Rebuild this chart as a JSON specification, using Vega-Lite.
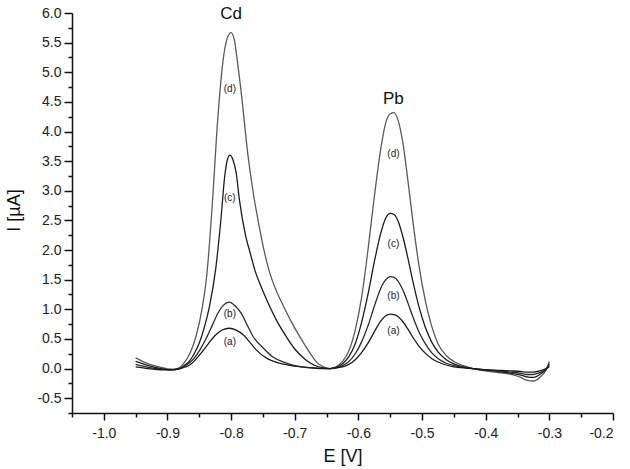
{
  "$schema": "https://vega.github.io/schema/vega-lite/v6.json",
  "width": 541,
  "height": 400,
  "autosize": {"type": "none"},
  "padding": {"left": 72, "top": 13, "right": 17, "bottom": 56},
  "background": "white",
  "config": {
    "locale": {"number": {"decimal": ".", "thousands": ",", "grouping": [3], "currency": ["", ""], "minus": "-"}},
    "view": {"stroke": null},
    "font": "Liberation Sans",
    "axis": {
      "grid": false,
      "domainColor": "#111",
      "domainWidth": 1.5,
      "tickColor": "#111",
      "tickWidth": 1.5,
      "labelColor": "#222",
      "labelFont": "Liberation Sans",
      "labelFontSize": 14,
      "titleFont": "Liberation Sans",
      "titleFontSize": 18,
      "titleFontWeight": "normal",
      "titleColor": "#111"
    }
  },
  "resolve": {"axis": {"x": "independent", "y": "independent"}},
  "layer": [
    {
      "data": {"values": [
        {"E": -0.950, "I": 0.18, "s": "d"}, {"E": -0.930, "I": 0.08, "s": "d"}, {"E": -0.910, "I": 0.02, "s": "d"}, {"E": -0.895, "I": -0.01, "s": "d"}, {"E": -0.885, "I": 0.0, "s": "d"}, {"E": -0.875, "I": 0.08, "s": "d"}, {"E": -0.865, "I": 0.25, "s": "d"}, {"E": -0.855, "I": 0.55, "s": "d"}, {"E": -0.845, "I": 1.05, "s": "d"}, {"E": -0.838, "I": 1.6, "s": "d"}, {"E": -0.830, "I": 2.7, "s": "d"}, {"E": -0.821, "I": 4.21, "s": "d"}, {"E": -0.813, "I": 5.17, "s": "d"}, {"E": -0.806, "I": 5.58, "s": "d"}, {"E": -0.800, "I": 5.67, "s": "d"}, {"E": -0.795, "I": 5.55, "s": "d"}, {"E": -0.790, "I": 5.17, "s": "d"}, {"E": -0.783, "I": 4.55, "s": "d"}, {"E": -0.774, "I": 3.64, "s": "d"}, {"E": -0.765, "I": 2.95, "s": "d"}, {"E": -0.758, "I": 2.52, "s": "d"}, {"E": -0.748, "I": 1.98, "s": "d"}, {"E": -0.740, "I": 1.64, "s": "d"}, {"E": -0.730, "I": 1.34, "s": "d"}, {"E": -0.718, "I": 1.06, "s": "d"}, {"E": -0.706, "I": 0.8, "s": "d"}, {"E": -0.690, "I": 0.5, "s": "d"}, {"E": -0.676, "I": 0.26, "s": "d"}, {"E": -0.665, "I": 0.1, "s": "d"}, {"E": -0.655, "I": 0.03, "s": "d"}, {"E": -0.645, "I": 0.0, "s": "d"},
        {"E": -0.635, "I": 0.03, "s": "d"}, {"E": -0.625, "I": 0.12, "s": "d"}, {"E": -0.615, "I": 0.3, "s": "d"}, {"E": -0.605, "I": 0.65, "s": "d"}, {"E": -0.595, "I": 1.2, "s": "d"}, {"E": -0.585, "I": 2.0, "s": "d"}, {"E": -0.575, "I": 2.9, "s": "d"}, {"E": -0.565, "I": 3.7, "s": "d"}, {"E": -0.557, "I": 4.15, "s": "d"}, {"E": -0.550, "I": 4.3, "s": "d"}, {"E": -0.544, "I": 4.32, "s": "d"}, {"E": -0.538, "I": 4.2, "s": "d"}, {"E": -0.530, "I": 3.8, "s": "d"}, {"E": -0.522, "I": 3.15, "s": "d"}, {"E": -0.514, "I": 2.45, "s": "d"}, {"E": -0.505, "I": 1.75, "s": "d"}, {"E": -0.495, "I": 1.15, "s": "d"}, {"E": -0.485, "I": 0.72, "s": "d"}, {"E": -0.475, "I": 0.42, "s": "d"}, {"E": -0.462, "I": 0.22, "s": "d"}, {"E": -0.450, "I": 0.12, "s": "d"}, {"E": -0.435, "I": 0.05, "s": "d"}, {"E": -0.420, "I": 0.0, "s": "d"}, {"E": -0.400, "I": -0.04, "s": "d"}, {"E": -0.380, "I": -0.07, "s": "d"}, {"E": -0.360, "I": -0.1, "s": "d"}, {"E": -0.345, "I": -0.15, "s": "d"}, {"E": -0.335, "I": -0.2, "s": "d"}, {"E": -0.325, "I": -0.21, "s": "d"}, {"E": -0.315, "I": -0.15, "s": "d"}, {"E": -0.305, "I": -0.02, "s": "d"}, {"E": -0.300, "I": 0.12, "s": "d"},

        {"E": -0.950, "I": 0.12, "s": "c"}, {"E": -0.930, "I": 0.05, "s": "c"}, {"E": -0.910, "I": 0.0, "s": "c"}, {"E": -0.895, "I": -0.02, "s": "c"}, {"E": -0.885, "I": -0.01, "s": "c"}, {"E": -0.875, "I": 0.04, "s": "c"}, {"E": -0.866, "I": 0.12, "s": "c"}, {"E": -0.858, "I": 0.25, "s": "c"}, {"E": -0.850, "I": 0.43, "s": "c"}, {"E": -0.842, "I": 0.7, "s": "c"}, {"E": -0.834, "I": 1.05, "s": "c"}, {"E": -0.824, "I": 1.7, "s": "c"}, {"E": -0.816, "I": 2.52, "s": "c"}, {"E": -0.810, "I": 3.25, "s": "c"}, {"E": -0.806, "I": 3.52, "s": "c"}, {"E": -0.802, "I": 3.6, "s": "c"}, {"E": -0.797, "I": 3.52, "s": "c"}, {"E": -0.792, "I": 3.3, "s": "c"}, {"E": -0.787, "I": 2.85, "s": "c"}, {"E": -0.777, "I": 2.23, "s": "c"}, {"E": -0.770, "I": 1.95, "s": "c"}, {"E": -0.763, "I": 1.67, "s": "c"}, {"E": -0.752, "I": 1.36, "s": "c"}, {"E": -0.742, "I": 1.11, "s": "c"}, {"E": -0.728, "I": 0.8, "s": "c"}, {"E": -0.714, "I": 0.55, "s": "c"}, {"E": -0.700, "I": 0.33, "s": "c"}, {"E": -0.683, "I": 0.15, "s": "c"}, {"E": -0.670, "I": 0.06, "s": "c"}, {"E": -0.655, "I": 0.01, "s": "c"}, {"E": -0.645, "I": 0.0, "s": "c"},
        {"E": -0.635, "I": 0.02, "s": "c"}, {"E": -0.625, "I": 0.08, "s": "c"}, {"E": -0.615, "I": 0.2, "s": "c"}, {"E": -0.605, "I": 0.42, "s": "c"}, {"E": -0.595, "I": 0.78, "s": "c"}, {"E": -0.585, "I": 1.25, "s": "c"}, {"E": -0.575, "I": 1.8, "s": "c"}, {"E": -0.565, "I": 2.28, "s": "c"}, {"E": -0.557, "I": 2.54, "s": "c"}, {"E": -0.550, "I": 2.62, "s": "c"}, {"E": -0.544, "I": 2.6, "s": "c"}, {"E": -0.538, "I": 2.5, "s": "c"}, {"E": -0.530, "I": 2.22, "s": "c"}, {"E": -0.522, "I": 1.85, "s": "c"}, {"E": -0.514, "I": 1.45, "s": "c"}, {"E": -0.505, "I": 1.05, "s": "c"}, {"E": -0.495, "I": 0.7, "s": "c"}, {"E": -0.485, "I": 0.45, "s": "c"}, {"E": -0.475, "I": 0.28, "s": "c"}, {"E": -0.462, "I": 0.15, "s": "c"}, {"E": -0.450, "I": 0.08, "s": "c"}, {"E": -0.435, "I": 0.03, "s": "c"}, {"E": -0.420, "I": 0.0, "s": "c"}, {"E": -0.400, "I": -0.03, "s": "c"}, {"E": -0.380, "I": -0.05, "s": "c"}, {"E": -0.360, "I": -0.08, "s": "c"}, {"E": -0.345, "I": -0.11, "s": "c"}, {"E": -0.335, "I": -0.14, "s": "c"}, {"E": -0.325, "I": -0.15, "s": "c"}, {"E": -0.315, "I": -0.1, "s": "c"}, {"E": -0.305, "I": -0.01, "s": "c"}, {"E": -0.300, "I": 0.08, "s": "c"},

        {"E": -0.950, "I": 0.07, "s": "b"}, {"E": -0.930, "I": 0.02, "s": "b"}, {"E": -0.910, "I": -0.01, "s": "b"}, {"E": -0.895, "I": -0.02, "s": "b"}, {"E": -0.880, "I": 0.0, "s": "b"}, {"E": -0.870, "I": 0.06, "s": "b"}, {"E": -0.860, "I": 0.15, "s": "b"}, {"E": -0.850, "I": 0.3, "s": "b"}, {"E": -0.840, "I": 0.49, "s": "b"}, {"E": -0.830, "I": 0.72, "s": "b"}, {"E": -0.821, "I": 0.93, "s": "b"}, {"E": -0.812, "I": 1.07, "s": "b"}, {"E": -0.803, "I": 1.12, "s": "b"}, {"E": -0.794, "I": 1.06, "s": "b"}, {"E": -0.784, "I": 0.93, "s": "b"}, {"E": -0.775, "I": 0.74, "s": "b"}, {"E": -0.766, "I": 0.55, "s": "b"}, {"E": -0.750, "I": 0.35, "s": "b"}, {"E": -0.735, "I": 0.2, "s": "b"}, {"E": -0.715, "I": 0.1, "s": "b"}, {"E": -0.700, "I": 0.05, "s": "b"}, {"E": -0.680, "I": 0.02, "s": "b"}, {"E": -0.660, "I": 0.0, "s": "b"}, {"E": -0.645, "I": 0.0, "s": "b"},
        {"E": -0.635, "I": 0.01, "s": "b"}, {"E": -0.625, "I": 0.05, "s": "b"}, {"E": -0.615, "I": 0.12, "s": "b"}, {"E": -0.605, "I": 0.25, "s": "b"}, {"E": -0.595, "I": 0.45, "s": "b"}, {"E": -0.585, "I": 0.72, "s": "b"}, {"E": -0.575, "I": 1.05, "s": "b"}, {"E": -0.565, "I": 1.35, "s": "b"}, {"E": -0.557, "I": 1.5, "s": "b"}, {"E": -0.550, "I": 1.55, "s": "b"}, {"E": -0.544, "I": 1.54, "s": "b"}, {"E": -0.538, "I": 1.48, "s": "b"}, {"E": -0.530, "I": 1.32, "s": "b"}, {"E": -0.522, "I": 1.1, "s": "b"}, {"E": -0.514, "I": 0.86, "s": "b"}, {"E": -0.505, "I": 0.62, "s": "b"}, {"E": -0.495, "I": 0.42, "s": "b"}, {"E": -0.485, "I": 0.27, "s": "b"}, {"E": -0.475, "I": 0.17, "s": "b"}, {"E": -0.462, "I": 0.09, "s": "b"}, {"E": -0.450, "I": 0.05, "s": "b"}, {"E": -0.435, "I": 0.02, "s": "b"}, {"E": -0.420, "I": 0.0, "s": "b"}, {"E": -0.400, "I": -0.02, "s": "b"}, {"E": -0.380, "I": -0.04, "s": "b"}, {"E": -0.360, "I": -0.06, "s": "b"}, {"E": -0.345, "I": -0.08, "s": "b"}, {"E": -0.335, "I": -0.1, "s": "b"}, {"E": -0.325, "I": -0.1, "s": "b"}, {"E": -0.315, "I": -0.07, "s": "b"}, {"E": -0.305, "I": -0.01, "s": "b"}, {"E": -0.300, "I": 0.05, "s": "b"},

        {"E": -0.950, "I": 0.03, "s": "a"}, {"E": -0.930, "I": 0.0, "s": "a"}, {"E": -0.910, "I": -0.02, "s": "a"}, {"E": -0.895, "I": -0.02, "s": "a"}, {"E": -0.880, "I": 0.0, "s": "a"}, {"E": -0.865, "I": 0.06, "s": "a"}, {"E": -0.855, "I": 0.16, "s": "a"}, {"E": -0.845, "I": 0.29, "s": "a"}, {"E": -0.835, "I": 0.43, "s": "a"}, {"E": -0.824, "I": 0.57, "s": "a"}, {"E": -0.814, "I": 0.65, "s": "a"}, {"E": -0.803, "I": 0.68, "s": "a"}, {"E": -0.792, "I": 0.65, "s": "a"}, {"E": -0.781, "I": 0.57, "s": "a"}, {"E": -0.771, "I": 0.45, "s": "a"}, {"E": -0.761, "I": 0.32, "s": "a"}, {"E": -0.745, "I": 0.18, "s": "a"}, {"E": -0.724, "I": 0.09, "s": "a"}, {"E": -0.700, "I": 0.04, "s": "a"}, {"E": -0.675, "I": 0.01, "s": "a"}, {"E": -0.645, "I": 0.0, "s": "a"},
        {"E": -0.635, "I": 0.01, "s": "a"}, {"E": -0.625, "I": 0.03, "s": "a"}, {"E": -0.615, "I": 0.07, "s": "a"}, {"E": -0.605, "I": 0.15, "s": "a"}, {"E": -0.595, "I": 0.27, "s": "a"}, {"E": -0.585, "I": 0.43, "s": "a"}, {"E": -0.575, "I": 0.62, "s": "a"}, {"E": -0.565, "I": 0.8, "s": "a"}, {"E": -0.557, "I": 0.89, "s": "a"}, {"E": -0.550, "I": 0.92, "s": "a"}, {"E": -0.544, "I": 0.91, "s": "a"}, {"E": -0.538, "I": 0.88, "s": "a"}, {"E": -0.530, "I": 0.79, "s": "a"}, {"E": -0.522, "I": 0.66, "s": "a"}, {"E": -0.514, "I": 0.52, "s": "a"}, {"E": -0.505, "I": 0.38, "s": "a"}, {"E": -0.495, "I": 0.26, "s": "a"}, {"E": -0.485, "I": 0.17, "s": "a"}, {"E": -0.475, "I": 0.11, "s": "a"}, {"E": -0.462, "I": 0.06, "s": "a"}, {"E": -0.450, "I": 0.03, "s": "a"}, {"E": -0.435, "I": 0.01, "s": "a"}, {"E": -0.420, "I": 0.0, "s": "a"}, {"E": -0.400, "I": -0.02, "s": "a"}, {"E": -0.380, "I": -0.03, "s": "a"}, {"E": -0.360, "I": -0.04, "s": "a"}, {"E": -0.345, "I": -0.05, "s": "a"}, {"E": -0.335, "I": -0.06, "s": "a"}, {"E": -0.325, "I": -0.06, "s": "a"}, {"E": -0.315, "I": -0.04, "s": "a"}, {"E": -0.305, "I": 0.0, "s": "a"}, {"E": -0.300, "I": 0.03, "s": "a"}
      ]},
      "mark": {"type": "line", "interpolate": "monotone", "strokeWidth": 1.3},
      "encoding": {
        "x": {
          "field": "E", "type": "quantitative",
          "scale": {"domain": [-1.05, -0.2], "nice": false, "zero": false},
          "axis": {
            "orient": "bottom",
            "title": "E [V]",
            "titleY": 48,
            "titleBaseline": "alphabetic",
            "tickSize": 7,
            "labelPadding": 6,
            "format": ".1f",
            "values": [-1.0, -0.9, -0.8, -0.7, -0.6, -0.5, -0.4, -0.3, -0.2]
          }
        },
        "y": {
          "field": "I", "type": "quantitative",
          "scale": {"domain": [-0.75, 6.0], "nice": false, "zero": false},
          "axis": {
            "orient": "left",
            "title": "I [µA]",
            "titleX": -58,
            "titleY": 197,
            "titleAngle": -90,
            "titleBaseline": "middle",
            "titleAlign": "center",
            "tickSize": 8,
            "labelPadding": 3,
            "format": ".1f",
            "values": [-0.5, 0, 0.5, 1, 1.5, 2, 2.5, 3, 3.5, 4, 4.5, 5, 5.5, 6]
          }
        },
        "detail": {"field": "s", "type": "nominal"},
        "color": {
          "field": "s", "type": "nominal", "legend": null,
          "scale": {"domain": ["a", "b", "c", "d"], "range": ["#1c1c1c", "#2a2a2a", "#1c1c1c", "#5a5a5a"]}
        }
      }
    },
    {
      "data": {"values": [
        {"E": -0.802, "I": 4.72, "t": "(d)"}, {"E": -0.802, "I": 2.87, "t": "(c)"}, {"E": -0.802, "I": 0.92, "t": "(b)"}, {"E": -0.802, "I": 0.44, "t": "(a)"},
        {"E": -0.545, "I": 3.62, "t": "(d)"}, {"E": -0.545, "I": 2.11, "t": "(c)"}, {"E": -0.545, "I": 1.23, "t": "(b)"}, {"E": -0.545, "I": 0.64, "t": "(a)"}
      ]},
      "mark": {"type": "text", "fontSize": 10, "font": "Liberation Sans", "color": "#222", "baseline": "middle", "align": "center"},
      "encoding": {
        "x": {
          "field": "E", "type": "quantitative",
          "axis": {
            "orient": "bottom", "title": null, "labels": false, "domain": false, "tickSize": 4,
            "values": [-1.05, -0.95, -0.85, -0.75, -0.65, -0.55, -0.45, -0.35, -0.25]
          }
        },
        "y": {
          "field": "I", "type": "quantitative",
          "axis": {
            "orient": "left", "title": null, "labels": false, "domain": false, "tickSize": 4,
            "values": [-0.75, -0.25, 0.25, 0.75, 1.25, 1.75, 2.25, 2.75, 3.25, 3.75, 4.25, 4.75, 5.25, 5.75]
          }
        },
        "text": {"field": "t"}
      }
    },
    {
      "data": {"values": [
        {"E": -0.800, "I": 5.98, "t": "Cd"},
        {"E": -0.545, "I": 4.55, "t": "Pb"}
      ]},
      "mark": {"type": "text", "fontSize": 17, "font": "Liberation Sans", "color": "#111", "baseline": "middle", "align": "center"},
      "encoding": {
        "x": {"field": "E", "type": "quantitative", "axis": null},
        "y": {"field": "I", "type": "quantitative", "axis": null},
        "text": {"field": "t"}
      }
    }
  ]
}
